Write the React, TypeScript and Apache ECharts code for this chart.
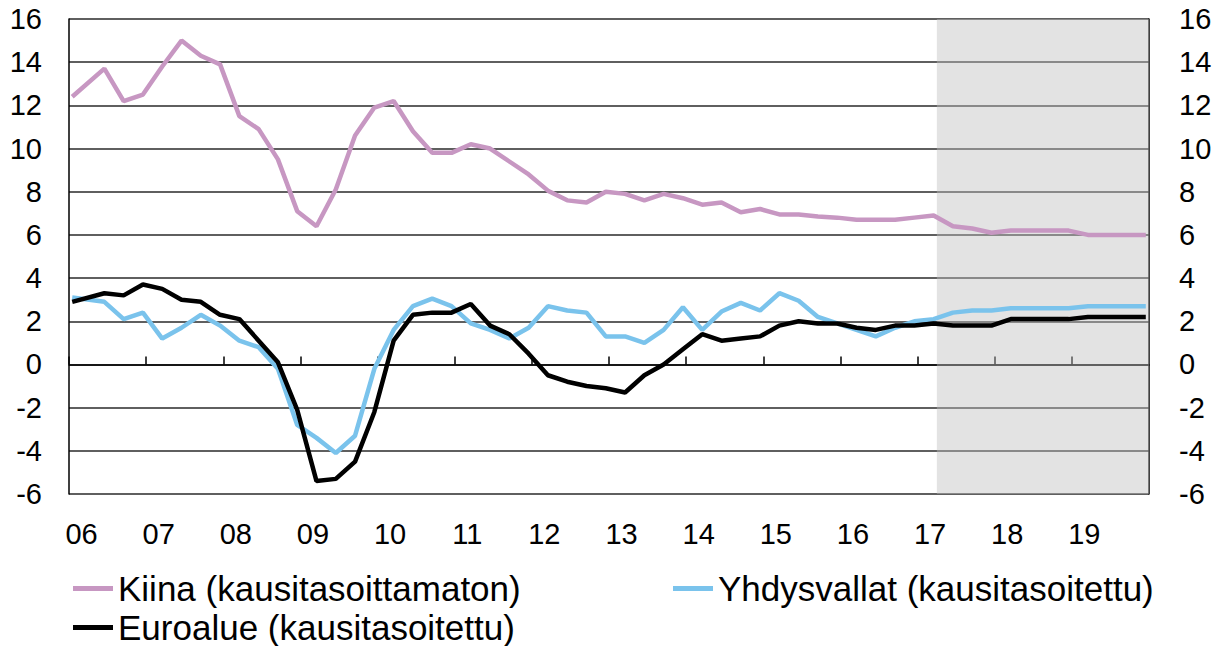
import React, { useEffect, useRef } from "react";
import * as echarts from "echarts";

// Year tick labels (one per year, Jan 2006 … Jan 2019)
const yearLabels = ["06", "07", "08", "09", "10", "11", "12", "13", "14", "15", "16", "17", "18", "19"];
// Observation months within each year (quarter-end months); first observation is plotted in January 2006
const quarterEndMonths = [3, 6, 9, 12];
const firstObsMonth = 1;
// Forecast period begins (shaded): April 2017
const forecastStartYear = 2017;
const forecastStartMonth = 4;

const seriesNames = [
  "Kiina (kausitasoittamaton)",
  "Yhdysvallat (kausitasoitettu)",
  "Euroalue (kausitasoitettu)",
];

// Year-on-year GDP growth, %, quarterly 2006Q1 … 2019Q4
const china = [
  12.4, 13.7, 12.2, 12.5,
  13.8, 15.0, 14.3, 13.9,
  11.5, 10.9, 9.5, 7.1,
  6.4, 8.1, 10.6, 11.9,
  12.2, 10.8, 9.8, 9.8,
  10.2, 10.0, 9.4, 8.8,
  8.05, 7.6, 7.5, 8.0,
  7.9, 7.6, 7.9, 7.7,
  7.4, 7.5, 7.05, 7.2,
  6.95, 6.95, 6.85, 6.8,
  6.7, 6.7, 6.7, 6.8,
  6.9, 6.4, 6.3, 6.1,
  6.2, 6.2, 6.2, 6.2,
  6.0, 6.0, 6.0, 6.0,
];
const usa = [
  3.1, 2.9, 2.1, 2.4,
  1.2, 1.7, 2.3, 1.8,
  1.1, 0.8, -0.2, -2.8,
  -3.4, -4.1, -3.3, -0.2,
  1.6, 2.7, 3.05, 2.7,
  1.9, 1.6, 1.2, 1.7,
  2.7, 2.5, 2.4, 1.3,
  1.3, 1.0, 1.6, 2.65,
  1.6, 2.45, 2.85, 2.5,
  3.3, 2.95, 2.2, 1.9,
  1.6, 1.3, 1.7, 2.0,
  2.1, 2.4, 2.5, 2.5,
  2.6, 2.6, 2.6, 2.6,
  2.7, 2.7, 2.7, 2.7,
];
const euro = [
  2.9, 3.3, 3.2, 3.7,
  3.5, 3.0, 2.9, 2.3,
  2.1, 1.1, 0.1, -2.1,
  -5.4, -5.3, -4.5, -2.2,
  1.1, 2.3, 2.4, 2.4,
  2.8, 1.8, 1.4, 0.5,
  -0.5, -0.8, -1.0, -1.1,
  -1.3, -0.5, 0.0, 0.7,
  1.4, 1.1, 1.2, 1.3,
  1.8, 2.0, 1.9, 1.9,
  1.7, 1.6, 1.8, 1.8,
  1.9, 1.8, 1.8, 1.8,
  2.1, 2.1, 2.1, 2.1,
  2.2, 2.2, 2.2, 2.2,
];

const colors = ["#C797C2", "#7AC3EC", "#000000"];
const FONT = "'Liberation Sans', Arial, sans-serif";

// month position (centre of month bin) on a monthly axis starting Jan 2006
const monthPos = (yearIdx: number, month: number) => yearIdx * 12 + (month - 1) + 0.5;

function toPoints(values: number[]) {
  return values.map((v, i) => {
    const yi = Math.floor(i / 4);
    const q = i % 4;
    const m = yi === 0 && q === 0 ? firstObsMonth : quarterEndMonths[q];
    return [monthPos(yi, m), v];
  });
}

export default function App() {
  const ref = useRef<HTMLDivElement>(null);
  useEffect(() => {
    if (!ref.current) return;
    const chart = echarts.init(ref.current, null, { renderer: "svg" });
    const totalMonths = yearLabels.length * 12;
    const shadeStart = (forecastStartYear - 2006) * 12 + (forecastStartMonth - 1);
    const lineSeries = [china, usa, euro].map((vals, i) => ({
      type: "line",
      name: seriesNames[i],
      data: toPoints(vals),
      symbol: "none",
      showSymbol: false,
      lineStyle: { color: colors[i], width: 4.5 },
      itemStyle: { color: colors[i] },
      z: 3 + i,
    }));
    const legendCommon = {
      icon: "rect",
      itemWidth: 40,
      itemHeight: 5,
      textStyle: { fontFamily: FONT, fontSize: 35, color: "#000", lineHeight: 33 },
    };
    chart.setOption({
      animation: false,
      grid: { left: 69, right: 73, top: 19, bottom: 152 },
      legend: [
        { ...legendCommon, data: [seriesNames[0]], left: 68, top: 566 },
        { ...legendCommon, data: [seriesNames[1]], left: 668, top: 566 },
        { ...legendCommon, data: [seriesNames[2]], left: 68, top: 605 },
      ],
      xAxis: {
        type: "value",
        min: 0,
        max: totalMonths,
        interval: 12,
        axisLine: { show: true, lineStyle: { color: "#000", width: 1.5 } },
        axisTick: { show: true, inside: true, length: 8, lineStyle: { color: "#000", width: 1.5 } },
        splitLine: { show: false },
        axisLabel: {
          formatter: (v: number) => yearLabels[Math.round(v / 12)] ?? "",
          fontFamily: FONT,
          fontSize: 29,
          lineHeight: 29,
          color: "#000",
          margin: 25,
          padding: [0, 0, 0, 25],
          showMaxLabel: false,
        },
      },
      yAxis: [
        {
          type: "value",
          min: -6,
          max: 16,
          interval: 2,
          position: "left",
          axisLine: { show: true, lineStyle: { color: "#000", width: 1.5 } },
          axisTick: { show: false },
          splitLine: { show: true, lineStyle: { color: "#2a2a2a", width: 1.5 } },
          axisLabel: { fontFamily: FONT, fontSize: 29, color: "#000", margin: 27 },
        },
        {
          type: "value",
          min: -6,
          max: 16,
          interval: 2,
          position: "right",
          axisLine: { show: true, lineStyle: { color: "#000", width: 1.5 } },
          axisTick: { show: false },
          splitLine: { show: false },
          axisLabel: { fontFamily: FONT, fontSize: 29, color: "#000", margin: 30 },
        },
      ],
      series: [
        {
          type: "line",
          name: "forecast",
          data: [],
          silent: true,
          z: 2,
          markArea: {
            silent: true,
            itemStyle: { color: "rgba(192,192,192,0.44)" },
            data: [[{ xAxis: shadeStart }, { xAxis: totalMonths }]],
          },
        },
        ...lineSeries,
      ],
    });
    return () => chart.dispose();
  }, []);
  return (
    <div
      ref={ref}
      style={{ position: "absolute", left: 0, top: 0, width: 1222, height: 646 }}
    />
  );
}
